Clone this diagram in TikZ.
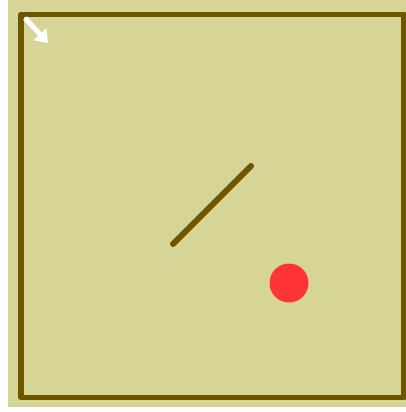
\documentclass[tikz,border=0pt]{standalone}
\usetikzlibrary{arrows.meta}
\definecolor{FieldBg}{HTML}{D6D596}
\definecolor{WallBrown}{HTML}{6E5500}
\definecolor{BallRed}{HTML}{FF3535}

\begin{document}
\begin{tikzpicture}[x=1pt,y=-1pt,>=latex]
\tikzset{wall/.style={draw=WallBrown,line width=5.5pt,line cap=round,line join=round},
         stick/.style={draw=WallBrown,line width=6pt,line cap=round},
         ball/.style={circle,fill=BallRed,minimum size=39pt,inner sep=0pt},
         pointer/.style={draw=white,line width=5pt,-{Triangle[width=17pt,length=12pt]}}}
\useasboundingbox (0,0) rectangle (406,412);
\fill[white] (0,0) rectangle (406,412);
\fill[FieldBg] (8,0) rectangle (406,407);
% walls
\draw[wall] (21,14.5) rectangle (404,397.5);
% stick
\coordinate (stickA) at (173,244);
\coordinate (stickB) at (251,166);
\draw[stick] (stickA) -- (stickB);
% ball
\node[ball] (dot) at (289,283) {};
% heading marker
\coordinate (headTail) at (25,18);
\coordinate (headTip) at (48,43);
\draw[pointer] (headTail) -- (headTip);
\end{tikzpicture}
\end{document}
